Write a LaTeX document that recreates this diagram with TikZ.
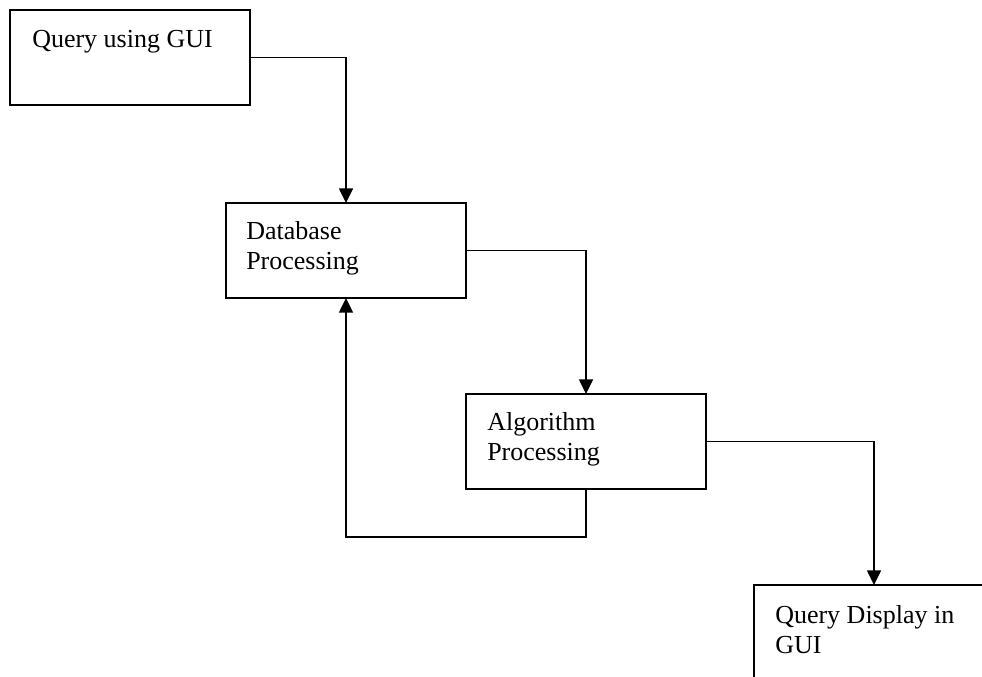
\documentclass[tikz,border=0pt]{standalone}
\usepackage{fontspec}
\setmainfont{Liberation Serif}
\usetikzlibrary{arrows.meta}

\tikzset{
    stage/.style={draw, line width=1.1pt, minimum width=180pt, minimum height=71.25pt, outer sep=0pt, inner sep=0pt, anchor=north west},
    stagetext/.style={anchor=north west, inner sep=0pt, align=left, font=\fontsize{19.5}{22.5}\selectfont},
    flow/.style={line width=1.1pt, -{Triangle[length=11pt,width=10.5pt]}}
}

\begin{document}
\begin{tikzpicture}[x=0.75pt, y=-0.75pt, line join=miter]
        \useasboundingbox (0,0) rectangle (982,676);
        \clip (0,0) rectangle (982,676);
        % boxes
        \node[stage] (gui) at (10, 10) {};
        \node[stage] (db) at (226, 203) {};
        \node[stage] (alg) at (466, 394) {};
        \node[stage] (disp) at (754, 585) {};
        % box texts
        \node[stagetext] (guitext) at ([shift={(22, 20)}]gui.north west) {Query using GUI};
        \node[stagetext] (dbtext) at ([shift={(20, 18)}]db.north west) {Database\\Processing};
        \node[stagetext] (algtext) at ([shift={(21, 18)}]alg.north west) {Algorithm\\Processing};
        \node[stagetext] (disptext) at ([shift={(21, 20)}]disp.north west) {Query Display in\\GUI};
        % connectors
        \draw[flow] (gui.east) -| (db.north);
        \draw[flow] (db.east) -| (alg.north);
        \draw[flow] (alg.east) -| (disp.north);
        \draw[flow] (alg.south) -- ++(0, 48) -| (db.south);
    \end{tikzpicture}
\end{document}
